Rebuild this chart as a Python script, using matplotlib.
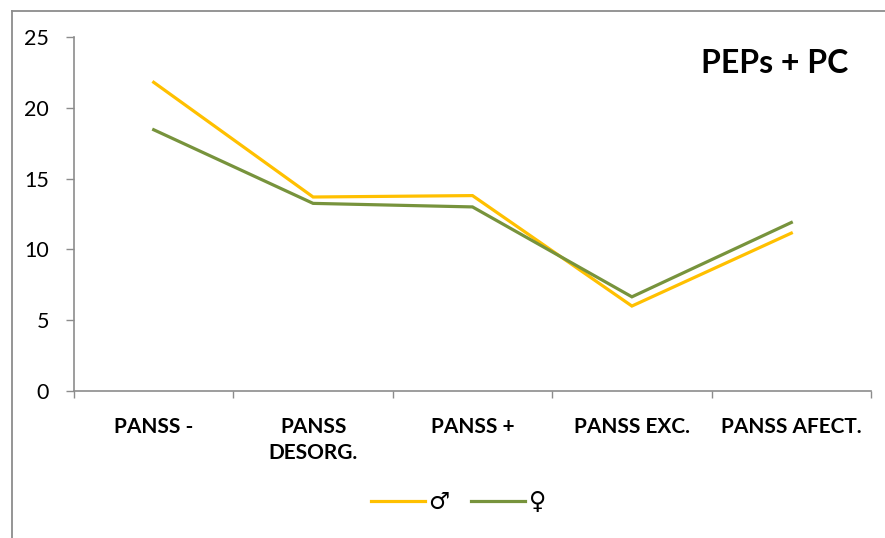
import numpy as np
import matplotlib
matplotlib.use('Agg')
import matplotlib.pyplot as plt
from matplotlib.lines import Line2D

plt.rcParams['font.family'] = ['Lato', 'DejaVu Sans']

categories = ['PANSS -', 'PANSS\nDESORG.', 'PANSS +', 'PANSS EXC.', 'PANSS AFECT.']
hombres = [21.8, 13.7, 13.8, 6.0, 11.15]
mujeres = [18.45, 13.25, 13.0, 6.65, 11.9]
series_labels = ['\u2642', '\u2640']
title = 'PEPs + PC'

AMARILLO = '#FFC000'
VERDE = '#77933C'
GRIS = '#8C8C8C'

fig = plt.figure(figsize=(8.85, 5.38), dpi=100)
ax = fig.add_axes([74 / 885, 1 - 391 / 538, 797 / 885, 354 / 538])

x = np.arange(len(categories))
ax.plot(x, hombres, color=AMARILLO, lw=2.3, solid_joinstyle='miter', label=series_labels[0])
ax.plot(x, mujeres, color=VERDE, lw=2.3, solid_joinstyle='miter', label=series_labels[1])

ax.set_xlim(-0.5, len(categories) - 0.5)
ax.set_ylim(0, 25)
ax.set_yticks(range(0, 26, 5))

# category boundaries carry the tick marks, labels sit between them
ax.set_xticks(np.arange(-0.5, len(categories), 1.0))
ax.set_xticklabels([])
ax.set_xticks(x, minor=True)
ax.set_xticklabels(categories, minor=True, fontsize=15, fontweight='bold',
                   linespacing=1.35, va='top')
ax.tick_params(axis='x', which='minor', length=0, pad=19)
ax.tick_params(axis='x', which='major', length=5, width=1, color=GRIS, direction='out')
ax.tick_params(axis='y', length=6, width=1, color=GRIS, labelsize=15.5, pad=12)

for side in ['top', 'right']:
    ax.spines[side].set_visible(False)
for side in ['left', 'bottom']:
    ax.spines[side].set_color(GRIS)
    ax.spines[side].set_linewidth(1.2)

ax.text(0.972, 0.925, title, transform=ax.transAxes, ha='right', va='center',
        fontsize=23, fontweight='bold')

fig.legend(loc='center', bbox_to_anchor=(0.518, 0.066), ncol=2, frameon=False,
           fontsize=17, handlelength=2.3, handletextpad=0.15, columnspacing=0.9)

# outer chart frame
fig.add_artist(Line2D([12 / 885, 12 / 885], [0, 1 - 11 / 538], color=GRIS, lw=1.3,
                      transform=fig.transFigure))
fig.add_artist(Line2D([12 / 885, 1], [1 - 11 / 538, 1 - 11 / 538], color=GRIS, lw=1.3,
                      transform=fig.transFigure))

fig.savefig('out.png', dpi=100)
